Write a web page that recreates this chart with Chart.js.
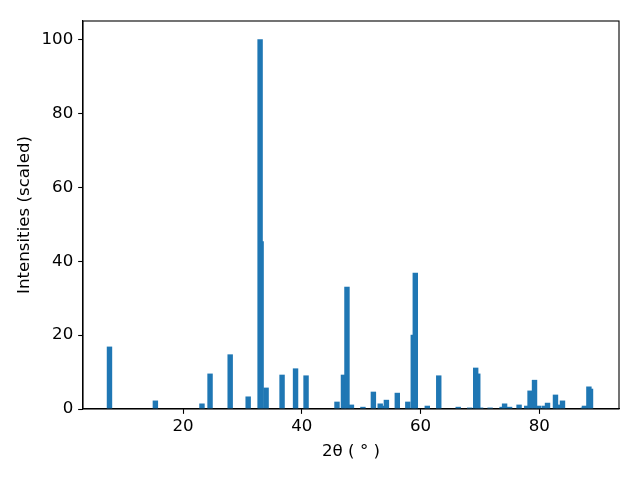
<!DOCTYPE html>
<html>
<head>
<meta charset="utf-8">
<script src="https://cdn.jsdelivr.net/npm/chart.js@4.4.1/dist/chart.umd.min.js"></script>
<style>
html,body{margin:0;padding:0;background:#fff;}
canvas{display:block;}
</style>
</head>
<body>
<canvas id="c" width="640" height="480"></canvas>
<script>
const twoTheta = [7.60, 15.33, 23.18, 24.54, 27.93, 30.96, 32.97, 33.14, 33.98, 36.67,
  38.94, 40.71, 45.92, 47.01, 47.60, 48.35, 50.29, 52.05, 53.20, 53.98,
  54.24, 56.08, 57.85, 58.77, 59.11, 61.13, 63.06, 66.34, 68.27, 69.28,
  69.63, 70.12, 71.71, 73.73, 74.15, 74.99, 76.59, 77.88, 78.44, 79.19,
  79.90, 80.87, 81.38, 82.72, 83.23, 83.90, 87.41, 87.60, 88.35, 88.62];
const intensities = [16.8, 2.2, 1.4, 9.5, 14.7, 3.3, 100, 45.3, 5.7, 9.2,
  10.9, 9.0, 1.9, 9.2, 33.0, 1.1, 0.5, 4.6, 1.4, 0.8,
  2.4, 4.3, 1.9, 20.0, 36.8, 0.8, 9.0, 0.5, 0.3, 11.1,
  9.5, 0.3, 0.3, 0.5, 1.4, 0.5, 1.1, 0.8, 4.9, 7.8,
  0.8, 0.8, 1.6, 3.8, 1.1, 2.2, 0.3, 0.8, 6.0, 5.4];
const xTicks = [20, 40, 60, 80];
const yTicks = [0, 20, 40, 60, 80, 100];
const xLabel = '2θ ( ° )';
const yLabel = 'Intensities (scaled)';

const FS = 16.67;
const font = {family: 'DejaVu Sans', size: FS};

const framePlugin = {
  id: 'frame',
  afterDraw(chart) {
    const a = chart.chartArea, ctx = chart.ctx;
    ctx.save();
    ctx.strokeStyle = '#000';
    ctx.lineWidth = 1.1;
    ctx.strokeRect(a.left, a.top, a.right - a.left, a.bottom - a.top);
    ctx.restore();
  }
};

new Chart(document.getElementById('c'), {
  type: 'bar',
  data: {
    datasets: [{
      data: twoTheta.map((x, i) => ({x: x, y: intensities[i]})),
      backgroundColor: '#1f77b4',
      borderWidth: 0,
      barThickness: 4.76
    }]
  },
  options: {
    responsive: false,
    animation: false,
    devicePixelRatio: 1,
    layout: {padding: {left: 0, right: 21, top: 21, bottom: 0}},
    plugins: {legend: {display: false}, tooltip: {enabled: false}},
    scales: {
      x: {
        type: 'linear',
        offset: false,
        min: 3.14,
        max: 93.42,
        afterBuildTicks: s => { s.ticks = xTicks.map(v => ({value: v})); },
        afterFit: s => { s.height = 71; },
        grid: {display: true, drawOnChartArea: false, drawTicks: true, tickLength: 4.86, tickColor: '#000', tickWidth: 1.1, offset: false},
        border: {display: true, color: '#000', width: 1.1},
        ticks: {color: '#000', font: font, padding: 2.6, maxRotation: 0, autoSkip: false},
        title: {display: true, text: xLabel, color: '#000', font: font, padding: {top: 0, bottom: 18}}
      },
      y: {
        type: 'linear',
        min: 0,
        max: 105,
        afterBuildTicks: s => { s.ticks = yTicks.map(v => ({value: v})); },
        afterFit: s => { s.width = 83; },
        grid: {display: true, drawOnChartArea: false, drawTicks: true, tickLength: 4.86, tickColor: '#000', tickWidth: 1.1},
        border: {display: true, color: '#000', width: 1.1},
        ticks: {color: '#000', font: font, padding: 4.86, autoSkip: false},
        title: {display: true, text: yLabel, color: '#000', font: font, padding: {top: 15, bottom: 0}}
      }
    }
  },
  plugins: [framePlugin]
});
</script>
</body>
</html>
